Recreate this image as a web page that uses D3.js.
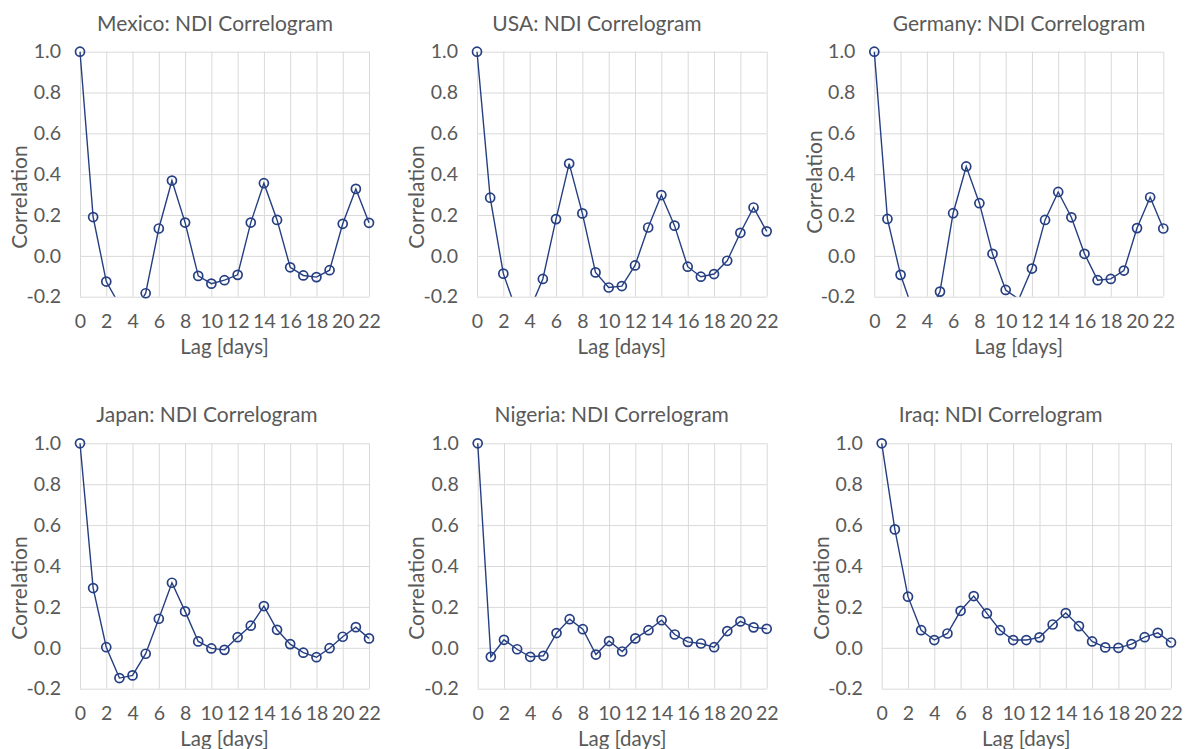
<!DOCTYPE html>
<html>
<head>
<meta charset="utf-8">
<script src="https://cdn.jsdelivr.net/npm/d3@7"></script>
<style>
  html, body { margin: 0; padding: 0; background: #ffffff; }
  svg { display: block; font-family: Lato, "Open Sans", sans-serif; }
</style>
</head>
<body>
<svg id="chart" width="1187" height="749"></svg>
<script>
// ---------- data ----------
const lags = d3.range(0, 23);
const countries = ["Mexico", "USA", "Germany", "Japan", "Nigeria", "Iraq"];
const mexico  = [1.0, 0.19, -0.126, -0.24, -0.29, -0.183, 0.134, 0.369, 0.163, -0.098, -0.136, -0.119, -0.093, 0.163, 0.356, 0.176, -0.056, -0.096, -0.104, -0.07, 0.157, 0.328, 0.162];
const usa     = [1.0, 0.285, -0.087, -0.27, -0.266, -0.113, 0.18, 0.452, 0.208, -0.081, -0.155, -0.148, -0.047, 0.139, 0.298, 0.148, -0.053, -0.102, -0.089, -0.024, 0.113, 0.237, 0.12];
const germany = [1.0, 0.181, -0.093, -0.277, -0.3, -0.175, 0.209, 0.438, 0.258, 0.01, -0.167, -0.212, -0.062, 0.176, 0.313, 0.189, 0.01, -0.119, -0.113, -0.072, 0.136, 0.287, 0.134];
const japan   = [1.0, 0.292, 0.003, -0.148, -0.135, -0.029, 0.142, 0.318, 0.178, 0.031, -0.003, -0.01, 0.052, 0.108, 0.204, 0.088, 0.018, -0.024, -0.046, -0.002, 0.054, 0.101, 0.046];
const nigeria = [1.0, -0.044, 0.039, -0.007, -0.044, -0.039, 0.072, 0.14, 0.091, -0.033, 0.033, -0.018, 0.046, 0.086, 0.135, 0.065, 0.029, 0.021, 0.003, 0.082, 0.129, 0.1, 0.093];
const iraq    = [1.0, 0.579, 0.25, 0.086, 0.038, 0.07, 0.181, 0.253, 0.168, 0.086, 0.038, 0.038, 0.051, 0.114, 0.17, 0.106, 0.031, 0.002, 0.0, 0.018, 0.052, 0.073, 0.026];
const seriesValues = [mexico, usa, germany, japan, nigeria, iraq];
const xTicks = [0, 2, 4, 6, 8, 10, 12, 14, 16, 18, 20, 22];
const yTicks = [-0.2, 0.0, 0.2, 0.4, 0.6, 0.8, 1.0];
const titleSuffix = ": NDI Correlogram";
const xTitle = "Lag [days]";
const yTitle = "Correlation";

// ---------- layout (pixel geometry per panel) ----------
const layout = [
  { x0: 80,    x1: 369,   y0: 51.7,  y1: 296.7, tx: 215,   ty: 24,  yx: 20,    yy: 197 },
  { x0: 477,   x1: 766.7, y0: 51.7,  y1: 296.7, tx: 597,   ty: 24,  yx: 416.7, yy: 197 },
  { x0: 874.3, x1: 1163.3,y0: 51.7,  y1: 296.7, tx: 1019,  ty: 24,  yx: 815,   yy: 182 },
  { x0: 80,    x1: 369,   y0: 443.3, y1: 688.7, tx: 207,   ty: 415, yx: 20,    yy: 588 },
  { x0: 477.7, x1: 766.7, y0: 443.3, y1: 688.7, tx: 611.7, ty: 415, yx: 416.7, yy: 588 },
  { x0: 881.7, x1: 1171,  y0: 443.3, y1: 688.7, tx: 1000.7,ty: 415, yx: 821.7, yy: 588 }
];

const textColor = "#595959";
const gridColor = "#d9d9d9";
const lineColor = "#263f82";
const fmtY = v => d3.format(".1f")(v).replace("\u2212", "-");

const svg = d3.select("#chart");

countries.forEach((name, i) => {
  const L = layout[i];
  const vals = seriesValues[i];
  const data = lags.map((lag, k) => ({ lag, v: vals[k] }));

  const x = d3.scaleLinear().domain([0, 22]).range([L.x0, L.x1]);
  const y = d3.scaleLinear().domain([-0.2, 1.0]).range([L.y1, L.y0]);

  const g = svg.append("g");

  // horizontal gridlines + y labels
  const yAxis = d3.axisLeft(y).tickValues(yTicks).tickFormat(fmtY)
    .tickSize(-(L.x1 - L.x0)).tickPadding(19);
  const yg = g.append("g").attr("transform", `translate(${L.x0},0)`).call(yAxis);
  yg.select(".domain").remove();
  yg.selectAll(".tick line").attr("stroke", gridColor).attr("stroke-width", 1);
  yg.selectAll(".tick text").attr("fill", textColor).style("font-size", "19.5px")
    .attr("font-family", "Lato, 'Open Sans', sans-serif");

  // vertical gridlines + x labels
  const xAxis = d3.axisBottom(x).tickValues(xTicks).tickFormat(d3.format("d"))
    .tickSize(-(L.y1 - L.y0)).tickPadding(17);
  const xg = g.append("g").attr("transform", `translate(0,${L.y1})`).call(xAxis);
  xg.select(".domain").remove();
  xg.selectAll(".tick line").attr("stroke", gridColor).attr("stroke-width", 1);
  xg.selectAll(".tick text").attr("fill", textColor).style("font-size", "19.5px")
    .attr("font-family", "Lato, 'Open Sans', sans-serif");

  // clip so the line is cut at the axis minimum
  const clipId = "clip" + i;
  svg.append("clipPath").attr("id", clipId)
    .append("rect")
    .attr("x", L.x0 - 10).attr("y", L.y0 - 10)
    .attr("width", L.x1 - L.x0 + 20).attr("height", L.y1 - L.y0 + 10);

  const line = d3.line().x(d => x(d.lag)).y(d => y(d.v));
  g.append("path").datum(data)
    .attr("clip-path", `url(#${clipId})`)
    .attr("fill", "none").attr("stroke", lineColor).attr("stroke-width", 1.4)
    .attr("d", line);

  g.selectAll("circle.m").data(data.filter(d => d.v >= -0.2)).enter()
    .append("circle").attr("class", "m")
    .attr("cx", d => x(d.lag)).attr("cy", d => y(d.v)).attr("r", 4.5)
    .attr("fill", "none").attr("stroke", lineColor).attr("stroke-width", 1.7);

  // titles
  g.append("text").attr("x", L.tx).attr("y", L.ty).attr("dy", "0.35em")
    .attr("text-anchor", "middle").attr("fill", textColor).style("font-size", "21px")
    .text(name + titleSuffix);
  g.append("text").attr("x", (L.x0 + L.x1) / 2).attr("y", L.y1 + 50).attr("dy", "0.35em")
    .attr("text-anchor", "middle").attr("fill", textColor).style("font-size", "20.5px")
    .text(xTitle);
  g.append("text").attr("transform", `translate(${L.yx},${L.yy}) rotate(-90)`).attr("dy", "0.35em")
    .attr("text-anchor", "middle").attr("fill", textColor).style("font-size", "21px")
    .text(yTitle);
});
</script>
</body>
</html>
